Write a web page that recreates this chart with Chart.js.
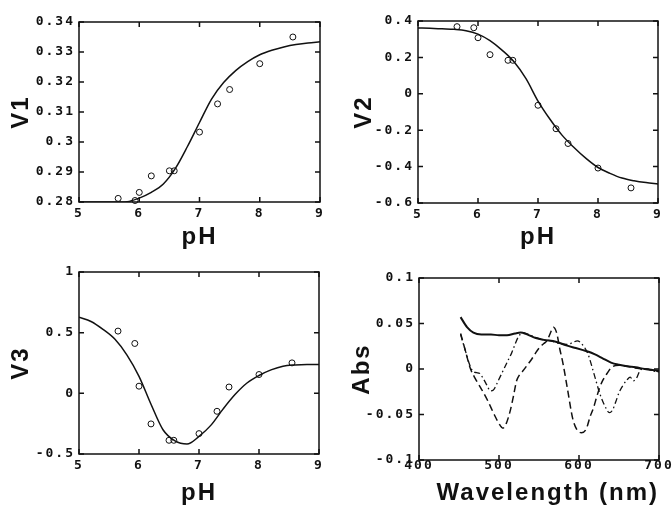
<!DOCTYPE html>
<html>
<head>
<meta charset="utf-8">
<title>Spectral components vs pH</title>
<script src="https://cdn.jsdelivr.net/npm/chart.js@4.4.1/dist/chart.umd.min.js"></script>
<style>
    body { margin: 0; background: #fff; }
    .panel { position: absolute; }
</style>
</head>
<body>
<div class="panel" style="left:0;top:0"><canvas id="v1Chart" width="336" height="256"></canvas></div>
<div class="panel" style="left:336px;top:0"><canvas id="v2Chart" width="336" height="256"></canvas></div>
<div class="panel" style="left:0;top:256px"><canvas id="v3Chart" width="336" height="255"></canvas></div>
<div class="panel" style="left:336px;top:256px"><canvas id="absChart" width="336" height="255"></canvas></div>
<script>
var phPoints = [5.65, 5.93, 6.0, 6.2, 6.5, 6.58, 7.0, 7.3, 7.5, 8.0, 8.55];
var v1Points = [0.2812, 0.2805, 0.2832, 0.2887, 0.2904, 0.2904, 0.3033, 0.3127, 0.3175, 0.3261, 0.3350];
var v2Points = [0.369, 0.363, 0.308, 0.215, 0.184, 0.184, -0.063, -0.192, -0.273, -0.408, -0.517];
var v3Points = [0.513, 0.411, 0.059, -0.252, -0.387, -0.387, -0.332, -0.148, 0.052, 0.155, 0.251];

// fitted curves
var fitPh = [5.0, 5.2, 5.4, 5.6, 5.8, 6.0, 6.2, 6.4, 6.6, 6.8, 7.0, 7.2, 7.4, 7.6, 7.8, 8.0, 8.2, 8.4, 8.6, 8.8, 9.0];
var v1Fit = [0.2800, 0.2800, 0.2800, 0.2800, 0.2801, 0.2813, 0.2832, 0.2860, 0.2912, 0.2985, 0.3065, 0.3143, 0.3198, 0.3238, 0.3268, 0.3291, 0.3306, 0.3317, 0.3325, 0.3330, 0.3334];
var v2Fit = [0.362, 0.360, 0.357, 0.354, 0.347, 0.328, 0.292, 0.240, 0.176, 0.083, -0.040, -0.140, -0.227, -0.295, -0.355, -0.405, -0.437, -0.463, -0.478, -0.488, -0.495];
var v3Fit = [0.628, 0.592, 0.527, 0.445, 0.315, 0.140, -0.090, -0.300, -0.392, -0.418, -0.355, -0.262, -0.130, -0.010, 0.085, 0.147, 0.193, 0.224, 0.234, 0.238, 0.238];

// spectra (nm, Abs)
var wlSolid = [452, 460, 468, 478, 490, 500, 510, 520, 527, 535, 546, 556, 571, 584, 596, 604, 612, 620, 629, 640, 650, 660, 671, 682, 692, 700];
var absSolid = [0.057, 0.046, 0.040, 0.038, 0.038, 0.037, 0.037, 0.039, 0.040, 0.038, 0.034, 0.032, 0.030, 0.026, 0.023, 0.021, 0.019, 0.016, 0.012, 0.007, 0.0046, 0.003, 0.002, 0.0, -0.001, -0.002];
var wlDash = [452, 458, 464, 470, 478, 486, 494, 500, 505, 509, 514, 518, 522, 526, 530, 536, 541, 546, 551, 556, 560, 564, 568, 572, 576, 580, 586, 592, 597, 603, 609, 614, 618, 622, 626, 630, 635, 641, 650, 660, 670, 680, 690, 700];
var absDash = [0.039, 0.020, 0.001, -0.010, -0.022, -0.035, -0.050, -0.060, -0.065, -0.060, -0.046, -0.030, -0.013, -0.006, -0.002, 0.005, 0.011, 0.018, 0.024, 0.028, 0.031, 0.039, 0.046, 0.040, 0.022, 0.006, -0.024, -0.054, -0.066, -0.070, -0.066, -0.052, -0.043, -0.031, -0.020, -0.012, -0.005, 0.002, 0.004, 0.003, 0.001, 0.0, -0.001, -0.003];
var wlDot = [452, 458, 464, 468, 472, 476, 480, 485, 489, 493, 499, 505, 511, 516, 520, 524, 530, 537, 545, 555, 565, 575, 585, 592, 598, 604, 611, 618, 626, 632, 638, 642, 646, 650, 655, 660, 664, 668, 672, 676, 680, 685, 692, 700];
var absDot = [0.038, 0.020, 0.003, -0.003, -0.004, -0.005, -0.010, -0.018, -0.024, -0.023, -0.013, -0.002, 0.009, 0.018, 0.027, 0.035, 0.040, 0.038, 0.035, 0.032, 0.031, 0.028, 0.027, 0.029, 0.031, 0.027, 0.017, -0.003, -0.027, -0.040, -0.048, -0.045, -0.036, -0.026, -0.018, -0.012, -0.009, -0.013, -0.010, -0.002, 0.000, 0.000, -0.002, -0.003];

// tick values
var phTicks = [5, 6, 7, 8, 9];
var v1Ticks = [0.28, 0.29, 0.30, 0.31, 0.32, 0.33, 0.34];
var v2Ticks = [-0.6, -0.4, -0.2, 0, 0.2, 0.4];
var v3Ticks = [-0.5, 0, 0.5, 1];
var wlTicks = [400, 500, 600, 700];
var absTicks = [-0.1, -0.05, 0, 0.05, 0.1];

var ink = '#111';
var tickFont = { family: "'DejaVu Sans Mono', monospace", size: 13, weight: 'bold' };
var titleFont = { family: "'Liberation Sans', Arial, sans-serif", size: 24, weight: 'bold' };

function xy(xs, ys) {
    return xs.map(function (x, i) { return { x: x, y: ys[i] }; });
}

function fmt(v) {
    return String(+Number(v).toFixed(3));
}

// wider letter spacing, like the scanned figure
var spacing = {
    id: 'spacing',
    beforeLayout: function (chart) { chart.ctx.letterSpacing = '2px'; },
    beforeDraw: function (chart) { chart.ctx.letterSpacing = '2px'; }
};

// box frame with inward ticks on all four sides
var frame = {
    id: 'frame',
    afterDraw: function (chart) {
        var ctx = chart.ctx, a = chart.chartArea, sx = chart.scales.x, sy = chart.scales.y;
        ctx.save();
        ctx.strokeStyle = ink;
        ctx.lineWidth = 1.5;
        ctx.strokeRect(a.left, a.top, a.right - a.left, a.bottom - a.top);
        ctx.beginPath();
        sx.ticks.forEach(function (t) {
            var px = sx.getPixelForValue(t.value);
            ctx.moveTo(px, a.bottom); ctx.lineTo(px, a.bottom - 5);
            ctx.moveTo(px, a.top); ctx.lineTo(px, a.top + 5);
        });
        sy.ticks.forEach(function (t) {
            var py = sy.getPixelForValue(t.value);
            ctx.moveTo(a.left, py); ctx.lineTo(a.left + 5, py);
            ctx.moveTo(a.right, py); ctx.lineTo(a.right - 5, py);
        });
        ctx.stroke();
        ctx.restore();
    }
};

function axis(values, title, size, box, horizontal) {
    return {
        type: 'linear',
        min: values[0],
        max: values[values.length - 1],
        afterBuildTicks: function (s) {
            s.ticks = values.map(function (v) { return { value: v }; });
        },
        afterFit: function (s) {
            if (horizontal) { s.height = size; s.paddingLeft = 0; s.paddingRight = 0; }
            else { s.width = size; s.paddingTop = 0; s.paddingBottom = 0; }
        },
        grid: { display: false, drawTicks: false },
        border: { display: false },
        ticks: {
            color: ink, font: tickFont, autoSkip: false, maxRotation: 0,
            padding: horizontal ? box.xPad : 4,
            callback: fmt
        },
        title: {
            display: true, text: title, color: ink, font: titleFont, padding: 0,
            align: horizontal ? (box.xAlign || 'center') : 'center'
        }
    };
}

function makePanel(id, box, xTicks, yTicks, xTitle, yTitle, datasets) {
    new Chart(document.getElementById(id).getContext('2d'), {
        type: 'line',
        data: { datasets: datasets },
        options: {
            responsive: false,
            animation: false,
            layout: { padding: box.pad },
            plugins: { legend: { display: false }, tooltip: { enabled: false } },
            scales: {
                x: axis(xTicks, xTitle, box.xHeight, box, true),
                y: axis(yTicks, yTitle, box.yWidth, box, false)
            }
        },
        plugins: [spacing, frame]
    });
}

function fitSet(ys) {
    return {
        data: xy(fitPh, ys), borderColor: ink, borderWidth: 1.5,
        pointRadius: 0, cubicInterpolationMode: 'monotone', fill: false
    };
}

function pointSet(ys) {
    return {
        data: xy(phPoints, ys), showLine: false, clip: 5,
        pointStyle: 'circle', pointRadius: 3, pointBorderWidth: 1,
        pointBorderColor: ink, pointBackgroundColor: 'rgba(0,0,0,0)'
    };
}

makePanel('v1Chart',
    { pad: { left: 7, top: 22, right: 16, bottom: 4 }, yWidth: 72, xHeight: 50, xPad: 4 },
    phTicks, v1Ticks, 'pH', 'V1', [fitSet(v1Fit), pointSet(v1Points)]);

makePanel('v2Chart',
    { pad: { left: 14, top: 21, right: 14, bottom: 4 }, yWidth: 68, xHeight: 49, xPad: 4 },
    phTicks, v2Ticks, 'pH', 'V2', [fitSet(v2Fit), pointSet(v2Points)]);

makePanel('v3Chart',
    { pad: { left: 7, top: 16, right: 17, bottom: 3 }, yWidth: 72, xHeight: 54, xPad: 4 },
    phTicks, v3Ticks, 'pH', 'V3', [fitSet(v3Fit), pointSet(v3Points)]);

makePanel('absChart',
    { pad: { left: 12, top: 22, right: 13, bottom: 3 }, yWidth: 71, xHeight: 48, xPad: -2, xAlign: 'end' },
    wlTicks, absTicks, 'Wavelength (nm)', 'Abs', [
        { data: xy(wlSolid, absSolid), borderColor: ink, borderWidth: 2, pointRadius: 0, cubicInterpolationMode: 'monotone' },
        { data: xy(wlDash, absDash), borderColor: ink, borderWidth: 1.5, borderDash: [7, 4], pointRadius: 0, cubicInterpolationMode: 'monotone' },
        { data: xy(wlDot, absDot), borderColor: ink, borderWidth: 1.3, borderDash: [6, 3, 1.5, 3], pointRadius: 0, cubicInterpolationMode: 'monotone' }
    ]);
</script>
</body>
</html>
